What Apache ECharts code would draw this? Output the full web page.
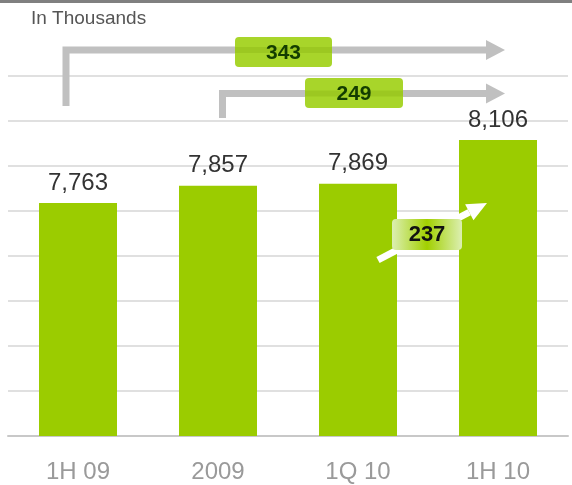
<!DOCTYPE html>
<html>
<head>
<meta charset="utf-8">
<script src="https://cdn.jsdelivr.net/npm/echarts@6/dist/echarts.min.js"></script>
<style>
  html, body { margin: 0; padding: 0; background: #fff; }
  #chart { width: 572px; height: 485px; }
</style>
</head>
<body>
<div id="chart"></div>
<script>
// Subscriber totals by period (thousands)
const categories = ['1H 09', '2009', '1Q 10', '1H 10'];
const subscribers = [7763, 7857, 7869, 8106];
// Growth call-outs: from which period to the latest one
const growthFrom = [0, 1, 2];

const FONT = '"Liberation Sans", Arial, sans-serif';
const BAR_GREEN = '#9bcc00';

const chart = echarts.init(document.getElementById('chart'), null, { renderer: 'canvas' });

const fmt = v => v.toLocaleString('en-US');

chart.setOption({
  animation: false,
  grid: { left: 8, right: 4, top: 76, bottom: 49, containLabel: false },
  xAxis: {
    type: 'category',
    data: categories,
    axisTick: { show: false },
    axisLine: { lineStyle: { color: '#c8c8c8', width: 2 } },
    axisLabel: { color: '#9a9a9a', fontSize: 24, fontFamily: FONT, margin: 24 }
  },
  yAxis: [
    {
      type: 'value', min: 6495, max: 8455,
      show: false, splitLine: { show: false }
    },
    {
      // light horizontal rules behind the bars
      type: 'value', min: 0, max: 8, interval: 1,
      axisLine: { show: false }, axisTick: { show: false }, axisLabel: { show: false },
      splitLine: { lineStyle: { color: '#d6d6d6', width: 1.5 } }
    }
  ],
  series: [{
    type: 'bar',
    yAxisIndex: 0,
    data: subscribers,
    barWidth: 78,
    itemStyle: { color: BAR_GREEN },
    label: {
      show: true, position: 'top', distance: 8,
      color: '#333', fontSize: 24, fontFamily: FONT,
      formatter: p => fmt(p.value)
    }
  }]
});

function drawCallouts() {
  const last = subscribers.length - 1;
  const cx = i => chart.convertToPixel({ xAxisIndex: 0 }, categories[i]);
  const diff = growthFrom.map(i => subscribers[last] - subscribers[i]);
  const tipX = cx(last) + 7;
  const grey = '#c0c0c0';
  const Z = 20;

  const bracket = (startX, bottomY, lineY) => [
    { type: 'polyline', silent: true, z: Z,
      shape: { points: [[startX, bottomY], [startX, lineY], [tipX - 19, lineY]] },
      style: { stroke: grey, lineWidth: 7, fill: null, lineJoin: 'miter', lineCap: 'butt' } },
    { type: 'polygon', silent: true, z: Z,
      shape: { points: [[tipX - 19, lineY - 10], [tipX, lineY], [tipX - 19, lineY + 10]] },
      style: { fill: grey } }
  ];

  const tag = (x, y, w, h, lineY, text) => [
    { type: 'rect', silent: true, z: Z + 1, shape: { x, y, width: w, height: h, r: 4 },
      style: { fill: '#a8d52a' } },
    { type: 'rect', silent: true, z: Z + 2, shape: { x, y: lineY - 3, width: w, height: 6 },
      style: { fill: 'rgba(110,150,0,0.2)' } },
    { type: 'text', silent: true, z: Z + 3,
      style: { text, x: x + w / 2, y: y + h / 2 + 1, align: 'center', verticalAlign: 'middle',
               font: 'bold 21px ' + FONT, fill: '#133d00' } }
  ];

  // white rising arrow next to the last bar
  const a0 = [cx(2) + 20, 260], a1 = [tipX - 18, 203];
  const ang = Math.atan2(a1[1] - a0[1], a1[0] - a0[0]);
  const headLen = 20, headHalf = 9;
  const bx = a1[0] - headLen * Math.cos(ang), by = a1[1] - headLen * Math.sin(ang);
  const nx = -Math.sin(ang), ny = Math.cos(ang);

  const elements = [].concat(
    [{ type: 'rect', silent: true, z: Z, shape: { x: 0, y: 0, width: 572, height: 3 }, style: { fill: '#808080' } }],
    [{ type: 'text', silent: true, z: Z, style: { text: 'In Thousands', x: 31, y: 19, verticalAlign: 'middle',
       font: '19px ' + FONT, fill: '#555' } }],
    bracket(cx(0) - 12, 106, 50),
    bracket(cx(1) + 4.5, 118, 93.5),
    tag(235, 37, 97, 30, 50, String(diff[0])),
    tag(305, 78, 98, 30, 93.5, String(diff[1])),
    [
      { type: 'line', silent: true, z: Z,
        shape: { x1: a0[0], y1: a0[1], x2: bx, y2: by },
        style: { stroke: '#fff', lineWidth: 7 } },
      { type: 'polygon', silent: true, z: Z,
        shape: { points: [[a1[0], a1[1]], [bx + nx * headHalf, by + ny * headHalf], [bx - nx * headHalf, by - ny * headHalf]] },
        style: { fill: '#fff' } },
      { type: 'rect', silent: true, z: Z + 1, shape: { x: 392, y: 219, width: 70, height: 31, r: 4 },
        style: { fill: new echarts.graphic.LinearGradient(0, 0, 1, 0, [
          { offset: 0, color: '#dcefb2' },
          { offset: 0.5, color: '#a2d000' },
          { offset: 1, color: '#dcefb2' }
        ]) } },
      { type: 'text', silent: true, z: Z + 2,
        style: { text: String(diff[2]), x: 427, y: 235, align: 'center', verticalAlign: 'middle',
                 font: 'bold 22px ' + FONT, fill: '#111' } }
    ]
  );
  chart.setOption({ graphic: { elements } });
}

drawCallouts();
</script>
</body>
</html>
